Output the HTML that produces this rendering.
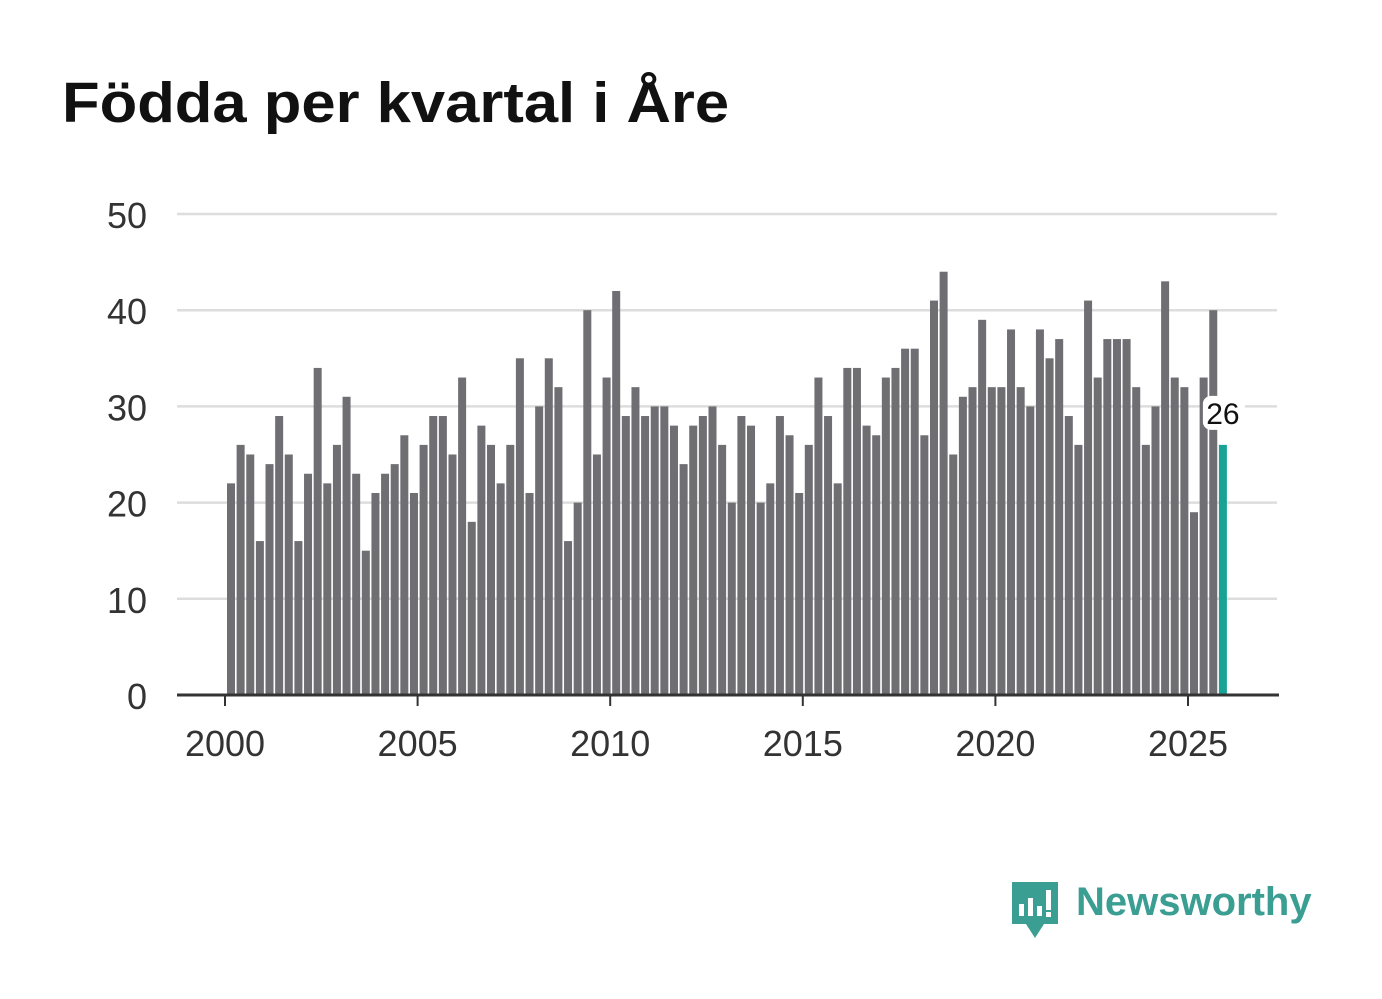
<!DOCTYPE html>
<html><head><meta charset="utf-8"><style>
body{margin:0;background:#fff;width:1382px;height:999px;overflow:hidden;font-family:"Liberation Sans",sans-serif}
h1{position:absolute;left:62px;top:70px;margin:0;font-size:57px;font-weight:bold;color:#111;transform-origin:0 0;transform:scaleX(1.08);white-space:nowrap}
</style></head><body>
<h1>Födda per kvartal i Åre</h1>
<svg id="c" width="1382" height="999" style="position:absolute;left:0;top:0"></svg>
<script>
const years=[2000,2001,2002,2003,2004,2005,2006,2007,2008,2009,2010,2011,2012,2013,2014,2015,2016,2017,2018,2019,2020,2021,2022,2023,2024,2025];
const births=[22,26,25,16, 24,29,25,16, 23,34,22,26, 31,23,15,21, 23,24,27,21, 26,29,29,25, 33,18,28,26, 22,26,35,21, 30,35,32,16, 20,40,25,33, 42,29,32,29, 30,30,28,24, 28,29,30,26, 20,29,28,20, 22,29,27,21, 26,33,29,22, 34,34,28,27, 33,34,36,36, 27,41,44,25, 31,32,39,32, 32,38,32,30, 38,35,37,29, 26,41,33,37, 37,37,32,26, 30,43,33,32, 19,33,40,26];
const yTicks=[0,10,20,30,40,50];
const xTicks=[2000,2005,2010,2015,2020,2025];
const NS="http://www.w3.org/2000/svg",svg=document.getElementById('c');
const y=v=>695-v*9.62, x=t=>225+(t-2000)*38.52;
function mk(tag,a,txt){const e=document.createElementNS(NS,tag);for(const k in a)e.setAttribute(k,a[k]);if(txt!=null)e.textContent=txt;svg.appendChild(e);return e;}
yTicks.forEach(v=>{
  if(v>0){const g=mk('line',{x1:177,x2:1277,y1:y(v),y2:y(v),stroke:'#ddd','stroke-width':2.5});
  
  }
  const t=mk('text',{x:147,y:y(v)+14,'text-anchor':'end','font-size':36,fill:'#333'},v);
  
  
});
births.forEach((v,i)=>{
  const t=2000+i/4;
  const last=i===births.length-1;
  const r=mk('rect',{x:x(t)+2,y:y(v),width:8,height:695-y(v),fill:last?'#1aa394':'#6e6e73'});
  
  
});
const ax=mk('line',{x1:177,x2:1279,y1:695,y2:695,stroke:'#333','stroke-width':3});


xTicks.forEach(t=>{
  const l=mk('line',{x1:x(t),x2:x(t),y1:695,y2:706,stroke:'#333','stroke-width':2});
  
  
  const tx=mk('text',{x:x(t),y:756,'text-anchor':'middle','font-size':36,fill:'#333'},t);
  
  
});
const lv=births[births.length-1], lx=x(2025.75)+6;
const bg=mk('rect',{x:lx-20,y:y(lv)-49,width:42,height:34,rx:8,fill:'#fff'});


const lt=mk('text',{x:lx,y:y(lv)-21,'text-anchor':'middle','font-size':30,fill:'#111'},lv);


</script>
<div style="position:absolute;left:1010px;top:880px;display:flex;align-items:center">
<svg width="50" height="60"><path d="M2 2h46v42H34l-9 14-9-14H2z" fill="#3a9e93"/><rect x="9" y="24" width="5" height="12" fill="#fff"/><rect x="18" y="18" width="5" height="18" fill="#fff"/><rect x="27" y="26" width="5" height="10" fill="#fff"/><rect x="36" y="10" width="5" height="20" fill="#fff"/><rect x="36" y="32" width="5" height="5" fill="#fff"/></svg>
<span style="font-size:40px;font-weight:bold;color:#3a9e93;margin-left:16px;margin-top:-16px">Newsworthy</span></div>
</body></html>
